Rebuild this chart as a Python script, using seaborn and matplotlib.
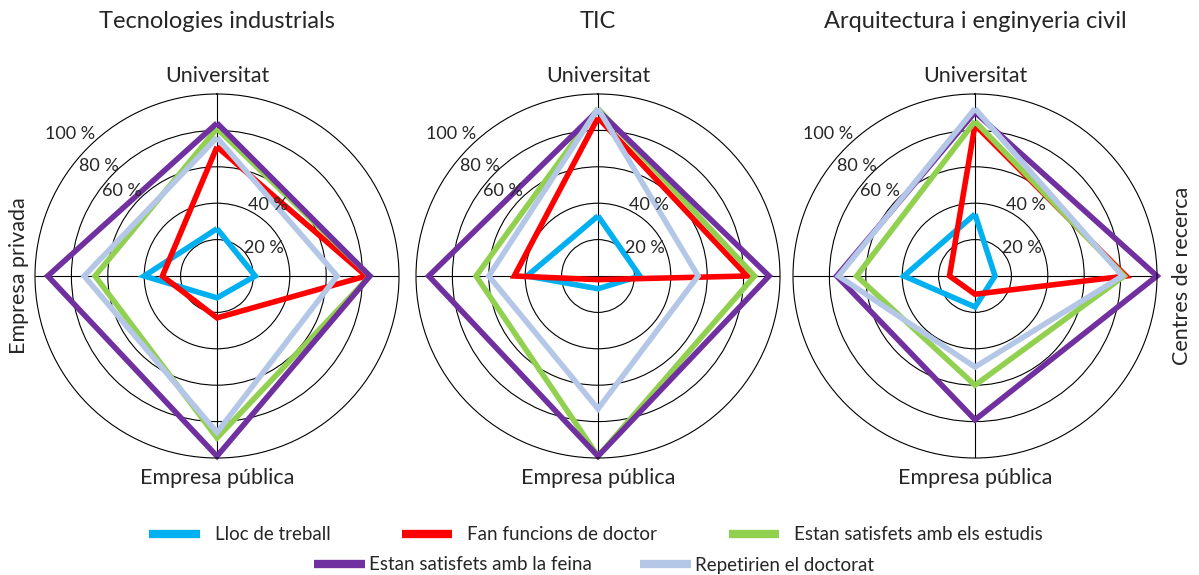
import numpy as np
import pandas as pd
import matplotlib
matplotlib.use("Agg")
import matplotlib.pyplot as plt
import seaborn as sns

titles = ["Tecnologies industrials", "TIC", "Arquitectura i enginyeria civil"]
categories = ["Universitat", "Centres de recerca", "Empresa pública", "Empresa privada"]
series = ["Lloc de treball", "Fan funcions de doctor", "Estan satisfets amb els estudis",
          "Estan satisfets amb la feina", "Repetirien el doctorat"]
colors = ["#00B0F0", "#FF0000", "#92D050", "#7030A0", "#B4C7E7"]

# values (%) per chart, order: Universitat, Centres de recerca, Empresa pública, Empresa privada
lloc_treball = [[26, 21, 12, 40], [33, 23, 7, 39], [34, 11, 17, 39]]
fan_funcions = [[71, 82, 23, 30], [87, 82, 2, 46], [83, 83, 10, 14]]
satisf_estudis = [[81, 84, 89, 67], [92, 86, 99, 67], [85, 82, 60, 65]]
satisf_feina = [[84, 84, 99, 93], [91, 94, 99, 93], [90, 100, 79, 76]]
repetirien = [[76, 66, 86, 73], [92, 55, 73, 60], [92, 81, 50, 75]]

tick_labels = ["20 %", "40 %", "60 %", "80 %", "100 %"]

all_values = [lloc_treball, fan_funcions, satisf_estudis, satisf_feina, repetirien]
angles = np.arange(len(categories)) * np.pi / 2

sns.set_style("white")
plt.rcParams["font.family"] = ["Lato", "DejaVu Sans"]
plt.rcParams["lines.solid_joinstyle"] = "miter"
plt.rcParams["lines.solid_capstyle"] = "butt"

fig = plt.figure(figsize=(11.99, 5.75), dpi=100)
W, H = 1199, 575
centers_x = [217, 598, 975]
cy = 276
R = 182

# which category labels are shown on each chart
shown = [[0, 2, 3], [0, 2], [0, 1, 2]]

axes = []
for i, title in enumerate(titles):
    ax = fig.add_axes([(centers_x[i] - R) / W, (H - cy - R) / H, 2 * R / W, 2 * R / H],
                      projection="polar")
    ax.set_theta_zero_location("N")
    ax.set_theta_direction(-1)

    rows = []
    for s, vals in zip(series, all_values):
        v = vals[i] + [vals[i][0]]
        th = list(angles) + [2 * np.pi]
        for t, r in zip(th, v):
            rows.append({"theta": t, "value": r, "serie": s})
    df = pd.DataFrame(rows)

    sns.lineplot(data=df, x="theta", y="value", hue="serie", hue_order=series,
                 palette=colors, sort=False, estimator=None, linewidth=4,
                 ax=ax, legend=(i == 0))
    for ln in ax.lines:
        ln.set_clip_on(False)

    ax.set_ylim(0, 100)
    ax.set_yticks([20, 40, 60, 80])
    ax.set_yticklabels([])
    ax.set_xticks(angles)
    ax.set_xticklabels([])
    ax.set_xlabel("")
    ax.set_ylabel("")
    ax.grid(True, color="black", linewidth=0.8)
    ax.spines["polar"].set_color("black")
    ax.spines["polar"].set_linewidth(0.8)
    ax.set_facecolor("none")

    # radial value labels
    lab_pos = [(np.deg2rad(59), 30), (np.deg2rad(36), 48), (np.deg2rad(-48), 70),
               (np.deg2rad(-47), 89), (np.deg2rad(-46), 112)]
    for (t, r), lab in zip(lab_pos, tick_labels):
        ax.text(t, r, lab, ha="center", va="center", fontsize=13, clip_on=False)

    # category labels
    for k in shown[i]:
        if k == 0:
            ax.text(0, 110, categories[k], ha="center", va="center", fontsize=15.5, clip_on=False)
        elif k == 2:
            ax.text(np.pi, 111, categories[k], ha="center", va="center", fontsize=15.5, clip_on=False)
        elif k == 3:
            ax.text(3 * np.pi / 2, 109, categories[k], ha="center", va="center",
                    rotation=90, fontsize=15.5, clip_on=False)
        elif k == 1:
            ax.text(np.pi / 2, 114, categories[k], ha="center", va="center",
                    rotation=90, fontsize=15.5, clip_on=False)

    fig.text(centers_x[i] / W, 1 - 22 / H, title, ha="center", va="center", fontsize=17)
    axes.append(ax)

handles, labels = axes[0].get_legend_handles_labels()
axes[0].get_legend().remove()
for h in handles:
    h.set_linewidth(6)
    h.set_solid_capstyle("butt")

fig.legend(handles[:3], labels[:3], loc="center", bbox_to_anchor=(596 / W, 1 - 535 / H),
           ncol=3, frameon=False, fontsize=13.5, handlelength=2.7, handletextpad=0.8,
           columnspacing=3.8)
fig.legend(handles[3:], labels[3:], loc="center", bbox_to_anchor=(594 / W, 1 - 565 / H),
           ncol=2, frameon=False, fontsize=13.5, handlelength=2.7, handletextpad=0.2,
           columnspacing=2.6)

plt.savefig("out.png", dpi=100)
